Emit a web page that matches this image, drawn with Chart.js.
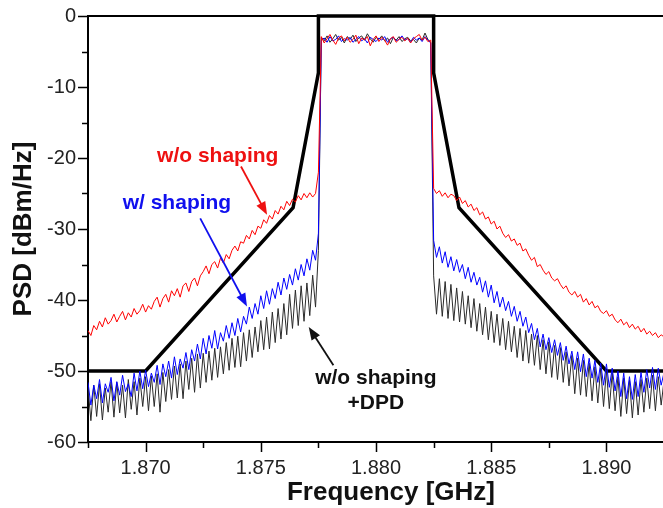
<!DOCTYPE html>
<html lang="en">
<head>
<meta charset="UTF-8">
<title>PSD - spectral shaping</title>
<script src="https://cdn.jsdelivr.net/npm/chart.js@4.4.1/dist/chart.umd.min.js"></script>
<style>
  body { margin: 0; overflow: hidden; background: white; }
  #psd { display: block; }
</style>
</head>
<body>
<canvas id="psd" width="700" height="508"></canvas>
<script>
// analyser sweep: 1.8675 GHz upward in 125 kHz bins
const sweepStart = 1.8675;
const sweepStep = 0.000125;

// w/o shaping (red)
const redPsd = [
  -44.3, -45.0, -43.6, -44.2, -43.0, -43.8, -42.5, -43.4, -42.9, -42.0,
  -43.1, -42.3, -41.6, -42.8, -41.8, -42.4, -41.2, -42.0, -41.5, -40.6,
  -41.7, -40.8, -41.3, -40.2, -39.6, -41.0, -39.8, -39.2, -40.3, -38.7,
  -39.4, -38.4, -39.6, -38.0, -37.6, -38.8, -37.4, -36.9, -38.0, -36.6,
  -36.0, -35.2, -36.3, -35.0, -34.6, -35.5, -34.1, -34.8, -33.6, -34.2,
  -33.0, -32.4, -33.1, -31.8, -32.0, -30.9, -31.4, -30.2, -30.8, -29.6,
  -29.9, -28.7, -29.2, -28.1, -28.6, -27.4, -27.9, -26.8, -27.3, -26.1,
  -26.7, -25.8, -26.2, -25.3, -25.9, -25.0, -25.6, -24.9, -25.5, -25.0,
  -22.0,
  -2.9, -3.8, -3.2, -2.6, -3.4, -4.0, -3.1, -2.8, -3.5, -3.0,
  -3.7, -3.3, -2.7, -3.9, -3.1, -3.4, -2.9, -4.2, -3.3, -2.8,
  -3.6, -3.0, -3.4, -4.1, -3.2, -2.9, -3.7, -3.3, -3.0, -3.5,
  -3.1, -3.8, -3.2, -2.9, -2.6, -3.4, -3.0, -3.6, -3.4,
  -24.3, -25.0, -24.6, -25.4, -24.9, -25.6, -25.1, -25.3, -26.0, -25.5,
  -26.4, -26.0, -26.9, -26.5, -27.4, -27.0, -28.0, -27.6, -28.6, -28.3,
  -29.3, -28.9, -30.0, -29.6, -30.6, -31.2, -30.8, -31.7, -31.4, -32.3,
  -32.0, -33.1, -32.8, -33.7, -34.4, -34.0, -35.3, -35.0, -35.8, -36.4,
  -36.0, -36.9, -37.3, -37.0, -37.8, -38.4, -38.0, -38.9, -39.3, -38.8,
  -39.6, -39.2, -40.3, -39.8, -40.7, -40.2, -41.1, -40.8, -41.6, -41.9,
  -41.5, -42.3, -42.0, -42.8, -43.2, -42.7, -43.5, -43.1, -43.9, -43.4,
  -44.1, -43.7, -44.5, -44.0, -44.8, -44.4, -45.0, -44.6, -45.3, -44.9, -45.2
];

// w/ shaping (blue)
const bluePsd = [
  -51.6, -54.8, -52.0, -53.9, -51.2, -54.5, -51.8, -53.0, -50.9, -54.2,
  -51.5, -53.4, -50.6, -52.9, -51.8, -53.6, -50.3, -52.8, -50.0, -52.5,
  -49.9, -52.2, -50.3, -51.6, -49.2, -51.9, -49.0, -50.8, -48.6, -51.0,
  -48.0, -50.5, -48.3, -49.6, -47.4, -49.8, -47.0, -48.6, -46.2, -48.3,
  -45.4, -47.6, -45.0, -46.8, -44.3, -46.9, -44.6, -45.8, -43.6, -45.4,
  -43.2, -45.0, -42.6, -44.5, -42.3, -43.4, -41.0, -42.6, -40.5, -42.0,
  -39.4, -41.2, -38.7, -40.6, -38.4, -39.8, -37.5, -39.3, -36.9, -38.5,
  -36.4, -37.9, -35.6, -37.2, -35.0, -36.6, -34.2, -35.8, -33.0, -34.4,
  -30.6,
  -3.4, -3.1, -3.7, -2.9, -3.5, -3.3, -2.8, -3.6, -3.2, -3.4,
  -3.0, -3.7, -3.3, -2.9, -3.5, -3.2, -3.8, -3.0, -3.3, -3.6,
  -3.1, -3.4, -2.9, -3.7, -3.2, -3.0, -3.5, -3.3, -2.8, -3.4,
  -3.2, -3.7, -3.0, -3.4, -3.1, -3.6, -2.9, -3.4, -3.8,
  -31.6, -34.0, -32.5, -34.8, -33.2, -35.4, -33.9, -35.9, -34.3, -36.1,
  -35.0, -37.0, -35.4, -37.5, -36.1, -37.9, -36.8, -38.9, -37.3, -39.6,
  -37.9, -40.4, -38.8, -41.0, -39.6, -41.5, -40.2, -42.3, -40.9, -43.0,
  -41.6, -43.7, -42.4, -44.6, -43.3, -45.6, -44.0, -46.6, -44.8, -47.0,
  -45.3, -47.4, -45.6, -47.8, -46.0, -48.5, -46.5, -49.0, -47.2, -49.8,
  -47.3, -50.1, -47.6, -50.8, -48.2, -51.0, -48.5, -51.6, -48.9, -52.0,
  -49.0, -52.3, -49.6, -52.8, -50.0, -53.6, -50.3, -53.9, -50.8, -54.0,
  -50.5, -53.6, -50.2, -53.0, -49.8, -52.4, -49.5, -52.6, -49.6, -52.0, -50.2
];

// w/o shaping + DPD (black)
const dpdPsd = [
  -52.3, -57.0, -52.0, -56.4, -51.8, -56.9, -52.4, -55.8, -51.5, -56.5,
  -51.6, -55.9, -52.0, -56.6, -51.2, -55.4, -51.5, -56.2, -51.0, -55.0,
  -50.8, -55.6, -50.7, -55.0, -50.4, -55.8, -50.2, -54.3, -49.8, -54.0,
  -49.3, -53.8, -49.0, -53.9, -48.6, -52.6, -48.2, -53.0, -47.6, -52.4,
  -47.5, -51.6, -47.2, -51.3, -46.8, -50.9, -46.6, -50.4, -46.0, -49.9,
  -45.4, -49.5, -45.1, -49.4, -44.6, -48.6, -44.2, -48.1, -43.8, -47.3,
  -42.9, -47.0, -42.4, -46.9, -41.7, -46.0, -41.2, -45.5, -40.5, -44.9,
  -39.2, -44.0, -38.6, -43.6, -38.0, -43.0, -37.6, -42.2, -36.5, -41.0,
  -33.0,
  -3.0, -3.5, -2.8, -3.7, -3.2, -2.6, -3.4, -3.0, -3.8, -2.9,
  -3.3, -2.7, -3.6, -3.1, -2.8, -3.4, -2.5, -3.2, -3.7, -3.0,
  -3.3, -2.8, -3.5, -3.1, -3.9, -3.0, -3.4, -2.9, -3.6, -3.2,
  -3.0, -3.5, -3.3, -3.8, -3.1, -3.4, -2.4, -3.3, -3.7,
  -36.6, -42.0, -37.0, -42.3, -37.4, -42.6, -37.8, -42.9, -38.3, -43.1,
  -38.8, -43.4, -39.4, -43.9, -39.8, -44.4, -40.5, -44.9, -41.0, -45.6,
  -41.6, -46.0, -42.0, -46.4, -42.6, -47.0, -43.0, -47.3, -43.7, -48.1,
  -44.0, -48.6, -44.3, -48.9, -44.8, -49.2, -45.0, -49.8, -45.6, -50.4,
  -45.9, -50.9, -46.4, -51.2, -46.7, -51.6, -47.3, -52.1, -47.8, -53.2,
  -48.2, -53.4, -48.5, -53.6, -48.9, -54.2, -49.4, -54.5, -49.6, -55.0,
  -49.9, -55.3, -50.3, -55.6, -50.8, -56.4, -51.0, -56.0, -51.3, -56.6,
  -51.5, -56.2, -51.2, -55.8, -51.0, -55.3, -50.6, -55.6, -50.8, -54.8, -51.3
];

// spectral emission mask
const maskFreq = [1.8675, 1.8700, 1.8764, 1.8775, 1.8775, 1.8825, 1.8825, 1.8836, 1.8900, 1.8938];
const maskPsd  = [-50, -50, -27, -8, 0, 0, -8, -27, -50, -50];

// annotations (data coordinates)
const noteText  = ['w/o shaping', 'w/ shaping', 'w/o shaping', '+DPD'];
const noteFreq  = [1.87313, 1.87136, 1.87999, 1.87999];
const notePsd   = [-19.7, -26.3, -51.0, -54.5];
const noteColor = ['#ee1111', '#1010ee', '#111111', '#111111'];
const arrowFrom = [[1.87414, -21.2], [1.87237, -28.5], [1.87815, -49.2]];
const arrowTo   = [[1.87527, -28.0], [1.87440, -40.9], [1.87708, -43.8]];

const fontFam = '"Liberation Sans", Arial, sans-serif';

function toPoints(arr) {
  return arr.map((v, i) => ({ x: sweepStart + i * sweepStep, y: v }));
}

// ticks and frame like the original plot (major + minor ticks, outside)
const frame = {
  id: 'frame',
  afterDraw(chart) {
    const ctx = chart.ctx, a = chart.chartArea;
    const xs = chart.scales.x, ys = chart.scales.y;
    ctx.save();
    ctx.strokeStyle = '#000';
    ctx.lineWidth = 2;
    ctx.beginPath();
    ctx.moveTo(a.left, a.top); ctx.lineTo(a.right, a.top); ctx.lineTo(a.right, a.bottom);
    ctx.stroke();
    ctx.lineWidth = 1.5;
    ctx.beginPath();
    xs.ticks.forEach(t => {
      const k = Math.round(t.value * 1e4);
      if (k % 25 !== 0) return;
      const len = k % 50 === 0 ? 10 : 6;
      const px = Math.round(xs.getPixelForValue(t.value)) + 0.5;
      ctx.moveTo(px, a.bottom); ctx.lineTo(px, a.bottom + len);
    });
    ys.ticks.forEach(t => {
      const len = t.value % 10 === 0 ? 10 : 6;
      const py = Math.round(ys.getPixelForValue(t.value)) + 0.5;
      ctx.moveTo(a.left, py); ctx.lineTo(a.left - len, py);
    });
    ctx.stroke();
    ctx.restore();
  }
};

const notes = {
  id: 'notes',
  afterDatasetsDraw(chart) {
    const ctx = chart.ctx;
    const xs = chart.scales.x, ys = chart.scales.y;
    ctx.save();
    ctx.font = 'bold 21px ' + fontFam;
    ctx.textAlign = 'center';
    ctx.textBaseline = 'middle';
    noteText.forEach((t, i) => {
      ctx.fillStyle = noteColor[i];
      ctx.fillText(t, xs.getPixelForValue(noteFreq[i]), ys.getPixelForValue(notePsd[i]));
    });
    arrowFrom.forEach((f, i) => {
      const x0 = xs.getPixelForValue(f[0]), y0 = ys.getPixelForValue(f[1]);
      const x1 = xs.getPixelForValue(arrowTo[i][0]), y1 = ys.getPixelForValue(arrowTo[i][1]);
      const ang = Math.atan2(y1 - y0, x1 - x0);
      const hl = 13, hw = 5;
      ctx.strokeStyle = noteColor[i];
      ctx.fillStyle = noteColor[i];
      ctx.lineWidth = 1.8;
      ctx.beginPath();
      ctx.moveTo(x0, y0);
      ctx.lineTo(x1 - Math.cos(ang) * hl * 0.8, y1 - Math.sin(ang) * hl * 0.8);
      ctx.stroke();
      ctx.beginPath();
      ctx.moveTo(x1, y1);
      ctx.lineTo(x1 - Math.cos(ang) * hl - Math.sin(ang) * hw, y1 - Math.sin(ang) * hl + Math.cos(ang) * hw);
      ctx.lineTo(x1 - Math.cos(ang) * hl + Math.sin(ang) * hw, y1 - Math.sin(ang) * hl - Math.cos(ang) * hw);
      ctx.closePath();
      ctx.fill();
    });
    ctx.restore();
  }
};

const traceStyle = { borderWidth: 1, pointRadius: 0, tension: 0, fill: false };

new Chart(document.getElementById('psd'), {
  type: 'line',
  data: {
    datasets: [
      Object.assign({ label: 'w/o shaping', data: toPoints(redPsd), borderColor: '#ff0000' }, traceStyle),
      Object.assign({ label: 'w/ shaping', data: toPoints(bluePsd), borderColor: '#0000ff' }, traceStyle),
      Object.assign({ label: 'w/o shaping +DPD', data: toPoints(dpdPsd), borderColor: '#2a2a2a' }, traceStyle),
      {
        label: 'mask',
        data: maskFreq.map((f, i) => ({ x: f, y: maskPsd[i] })),
        borderColor: '#000000', borderWidth: 3.5, pointRadius: 0, tension: 0,
        borderJoinStyle: 'miter', clip: false
      }
    ]
  },
  options: {
    responsive: false,
    animation: false,
    layout: { padding: { top: 16, right: 6, bottom: 0, left: 0 } },
    plugins: { legend: { display: false }, tooltip: { enabled: false } },
    scales: {
      x: {
        type: 'linear',
        min: 1.8675,
        max: 1.8938,
        afterFit(s) { s.height = 66; },
        border: { color: '#000', width: 2 },
        grid: { drawOnChartArea: false, tickLength: 10, tickColor: 'rgba(0,0,0,0)' },
        ticks: {
          stepSize: 0.0025, autoSkip: false, maxRotation: 0, padding: 4,
          color: '#222', font: { family: fontFam, size: 20 },
          callback: v => (Math.round(v * 1e4) % 50 === 0 ? v.toFixed(3) : '')
        },
        title: {
          display: true, text: 'Frequency [GHz]', color: '#111',
          font: { family: fontFam, size: 26, weight: 'bold' },
          padding: { top: 0, bottom: 0 }
        }
      },
      y: {
        min: -60,
        max: 0,
        afterFit(s) { s.width = 88; },
        border: { color: '#000', width: 2 },
        grid: { drawOnChartArea: false, tickLength: 10, tickColor: 'rgba(0,0,0,0)' },
        ticks: {
          stepSize: 5, padding: 2,
          color: '#222', font: { family: fontFam, size: 20 },
          callback: v => (v % 10 === 0 ? String(v) : '')
        },
        title: {
          display: true, text: 'PSD [dBm/Hz]', color: '#111',
          font: { family: fontFam, size: 26, weight: 'bold' },
          padding: { top: 8, bottom: 0 }
        }
      }
    }
  },
  plugins: [frame, notes]
});
</script>
</body>
</html>
